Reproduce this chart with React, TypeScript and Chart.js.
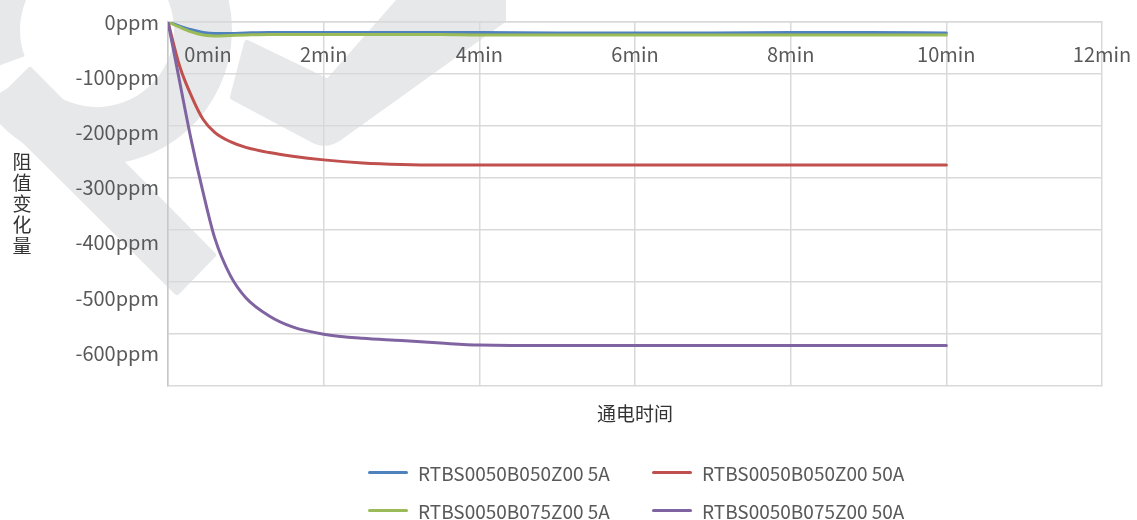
import React, { useEffect, useRef } from 'react';
import { Chart, registerables } from 'chart.js';

Chart.register(...registerables);

// ---------------- data ----------------
const TIMES = [0, 0.15, 0.3, 0.45, 0.6, 0.8, 1.0, 1.3, 1.6, 2, 2.5, 3, 3.5, 4, 5, 6, 7, 8, 9, 10];

const B050_5A = [0, -8, -15, -20, -22, -22, -21, -20, -20, -20, -20, -20, -20, -20, -21, -21, -21, -20, -20, -21];
const B050_50A = [0, -85, -142, -187, -212, -230, -241, -251, -258, -265, -271, -274, -275, -275, -275, -275, -275, -275, -275, -275];
const B075_5A = [0, -10, -19, -25, -27, -26, -25, -24, -24, -24, -24, -24, -24, -25, -25, -25, -25, -25, -25, -25];
const B075_50A = [0, -115, -228, -327, -415, -487, -530, -565, -586, -600, -608, -612, -617, -621, -622, -622, -622, -622, -622, -622];

const SERIES_LABELS = [
  'RTBS0050B050Z00 5A',
  'RTBS0050B050Z00 50A',
  'RTBS0050B075Z00 5A',
  'RTBS0050B075Z00 50A',
];

const X_TICK_LABELS = ['0min', '2min', '4min', '6min', '8min', '10min', '12min'];
const Y_TICK_LABELS = ['0ppm', '-100ppm', '-200ppm', '-300ppm', '-400ppm', '-500ppm', '-600ppm'];

const X_TITLE = '通电时间';
const Y_TITLE = '阻值变化量';

// ---------------- styles ----------------
const COLORS = ['#4f81bd', '#c0504d', '#9bbb59', '#8064a2'];
const FONT = "'Noto Sans CJK SC', 'Noto Sans', sans-serif";
const GRID = '#d9d9d9';
const TICK_COLOR = '#595959';
const TITLE_COLOR = '#333333';
const WATERMARK = '#e7e8ea';

const watermarkPlugin = {
  id: 'watermark',
  beforeDraw(chart: any) {
    const ctx = chart.ctx as CanvasRenderingContext2D;
    ctx.save();
    ctx.fillStyle = WATERMARK;
    ctx.strokeStyle = WATERMARK;
    // ring
    ctx.beginPath();
    ctx.lineWidth = 58;
    ctx.arc(97, 30, 106, (160 * Math.PI) / 180, ((147 + 360) * Math.PI) / 180);
    ctx.stroke();
    // tail
    ctx.beginPath();
    ctx.moveTo(30, 70);
    ctx.lineTo(213, 255);
    ctx.lineTo(177, 292);
    ctx.lineTo(-8, 108);
    ctx.closePath();
    ctx.lineJoin = 'round';
    ctx.lineWidth = 6;
    ctx.fill();
    ctx.stroke();
    // check mark
    ctx.beginPath();
    ctx.moveTo(247, 43);
    ctx.lineTo(328, 82);
    ctx.lineTo(400, 0);
    ctx.lineTo(503, 0);
    ctx.lineTo(503, 20);
    ctx.lineTo(340, 137);
    ctx.quadraticCurveTo(325, 148, 310, 138);
    ctx.lineTo(233, 97);
    ctx.closePath();
    ctx.fill();
    ctx.stroke();
    ctx.restore();
  },
};

const firstXLabelShift = {
  id: 'firstXLabelShift',
  beforeDraw(chart: any) {
    const s = chart.scales.x;
    if (!s || !s.getLabelItems) return;
    const items = s.getLabelItems(chart.chartArea);
    const it = items && items[0];
    if (it && !it.__shifted) {
      it.options.translation[0] += 40;
      it.__shifted = true;
    }
  },
};

const yTitlePlugin = {
  id: 'yTitle',
  afterDraw(chart: any) {
    const ctx = chart.ctx as CanvasRenderingContext2D;
    ctx.save();
    ctx.font = `19px ${FONT}`;
    ctx.fillStyle = TITLE_COLOR;
    ctx.textAlign = 'center';
    ctx.textBaseline = 'middle';
    const chars = Array.from(Y_TITLE);
    const step = 21;
    const cy = (chart.chartArea.top + chart.chartArea.bottom) / 2;
    const y0 = cy - ((chars.length - 1) * step) / 2;
    chars.forEach((c, i) => ctx.fillText(c, 22, y0 + i * step));
    ctx.restore();
  },
};

export default function App() {
  const ref = useRef<HTMLCanvasElement>(null);

  useEffect(() => {
    document.body.style.margin = '0';
    const values = [B050_5A, B050_50A, B075_5A, B075_50A];
    const chart = new Chart(ref.current as HTMLCanvasElement, {
      type: 'line',
      data: {
        datasets: SERIES_LABELS.map((label, i) => ({
          label,
          data: TIMES.map((t, j) => ({ x: t, y: values[i][j] })),
          borderColor: COLORS[i],
          backgroundColor: COLORS[i],
          borderWidth: 3,
          pointRadius: 0,
          fill: false,
          cubicInterpolationMode: 'monotone' as const,
          borderCapStyle: 'round' as const,
          borderJoinStyle: 'round' as const,
          order: SERIES_LABELS.length - i,
          xAxisID: 'x',
          yAxisID: 'y',
        })),
      },
      options: {
        animation: false,
        responsive: true,
        maintainAspectRatio: false,
        events: [],
        layout: { padding: { left: 0, top: 22, right: 35, bottom: 95 } },
        plugins: {
          legend: { display: false },
          tooltip: { enabled: false },
        },
        scales: {
          x: {
            type: 'linear',
            position: { y: 0 } as any,
            min: 0,
            max: 12,
            ticks: {
              stepSize: 2,
              autoSkip: false,
              maxRotation: 0,
              padding: 0,
              color: TICK_COLOR,
              font: { family: FONT, size: 20 },
              callback: (v: any) => X_TICK_LABELS[Math.round(Number(v) / 2)] ?? '',
            },
            grid: {
              color: GRID,
              drawTicks: true,
              tickLength: 20,
              tickColor: 'rgba(0,0,0,0)',
              lineWidth: 1.5,
            },
            border: { color: GRID, width: 1.5 },
          },
          x2: {
            type: 'linear',
            position: 'bottom',
            min: 0,
            max: 12,
            ticks: { display: false },
            grid: { display: false, drawTicks: false },
            border: { display: false },
            title: {
              display: true,
              text: X_TITLE,
              color: TITLE_COLOR,
              font: { family: FONT, size: 19 },
              padding: { top: 16, bottom: 0 },
            },
          },
          y: {
            type: 'linear',
            position: 'left',
            min: -700,
            max: 0,
            ticks: { display: false, stepSize: 100 },
            grid: { color: GRID, drawTicks: false, lineWidth: 1.5 },
            border: { color: '#c8c8c8', width: 1.5 },
            afterFit: (s: any) => {
              s.width = 0;
            },
          },
          yl: {
            type: 'linear',
            position: 'left',
            min: -660,
            max: 0,
            ticks: {
              stepSize: 100,
              includeBounds: false,
              padding: 9,
              color: TICK_COLOR,
              font: { family: FONT, size: 20 },
              callback: (v: any) => Y_TICK_LABELS[Math.round(-Number(v) / 100)] ?? '',
            },
            grid: { display: false, drawTicks: false },
            border: { display: false },
            afterFit: (s: any) => {
              s.width = 168;
            },
          },
        },
      } as any,
      plugins: [watermarkPlugin, firstXLabelShift, yTitlePlugin],
    });
    return () => chart.destroy();
  }, []);

  return (
    <div style={{ position: 'relative', width: 1137, height: 520 }}>
      <canvas ref={ref} />
      <div
        style={{
          position: 'absolute',
          left: 368,
          top: 453,
          display: 'grid',
          gridTemplateColumns: '284px auto',
          gridAutoRows: '38px',
          fontFamily: FONT,
          fontSize: 19,
          color: TICK_COLOR,
          whiteSpace: 'nowrap',
        }}
      >
        {SERIES_LABELS.map((label, i) => (
          <div key={label} style={{ display: 'flex', alignItems: 'center' }}>
            <span
              style={{
                display: 'inline-block',
                width: 40,
                height: 3,
                borderRadius: 2,
                background: COLORS[i],
                marginRight: 10,
              }}
            />
            <span>{label}</span>
          </div>
        ))}
      </div>
    </div>
  );
}
